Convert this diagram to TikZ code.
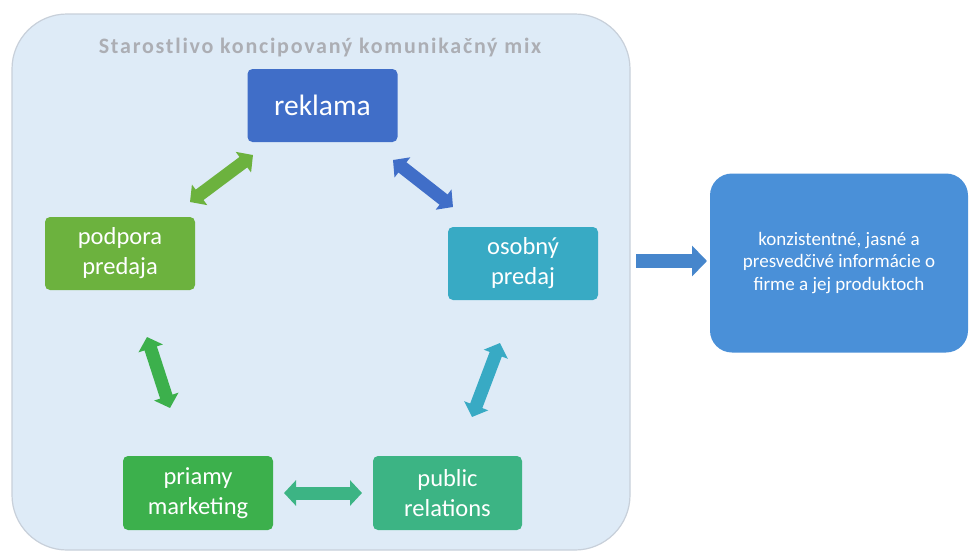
\documentclass[tikz,border=0pt]{standalone}
\usepackage{fontspec}
\setmainfont{Carlito}
\usetikzlibrary{arrows.meta}
\definecolor{outerfill}{RGB}{222,235,247}
\definecolor{outerdraw}{RGB}{200,208,218}
\definecolor{titlegray}{RGB}{172,174,180}
\definecolor{cReklama}{RGB}{64,110,200}
\definecolor{cPodpora}{RGB}{108,178,62}
\definecolor{cOsobny}{RGB}{56,170,196}
\definecolor{cPriamy}{RGB}{60,176,76}
\definecolor{cPublic}{RGB}{60,180,132}
\definecolor{cRight}{RGB}{74,144,216}
\definecolor{cRightArrow}{RGB}{70,134,204}
\tikzset{
  mixbox/.style={rounded corners=5pt, minimum width=150pt, minimum height=73pt,
    inner sep=0pt, text=white, align=center, font=\fontsize{24.5}{30}\selectfont},
  dblarrow/.style={line width=13pt, {Triangle[length=12pt,width=25pt]}-{Triangle[length=12pt,width=25pt]}},
}
\begin{document}
\begin{tikzpicture}[x=1pt,y=-1pt]
\useasboundingbox (0,0) rectangle (969,554);
\fill[white] (0,0) rectangle (969,554);
\node[draw=outerdraw, line width=1.2pt, fill=outerfill, rounded corners=55pt,
  minimum width=618pt, minimum height=536pt, inner sep=0pt] (outer) at (321,282) {};
\node[text=titlegray, font=\fontsize{22}{24}\selectfont\bfseries\addfontfeatures{LetterSpace=8}] (title) at (320,48) {Starostlivo koncipovaný komunikačný mix};
\node[mixbox, fill=cReklama, font=\fontsize{29.5}{34}\selectfont] (rek) at (322.5,105.5) {reklama};
\node[mixbox, fill=cPodpora] (pod) at (120,253.5) {podpora\\predaja};
\node[mixbox, fill=cOsobny] (oso) at (523,263.5) {osobný\\predaj};
\node[mixbox, fill=cPriamy, minimum height=74pt] (pri) at (198,493) {priamy\\marketing};
\node[mixbox, fill=cPublic, minimum height=74pt, minimum width=149pt] (pub) at (447.5,493) {public\\relations};
\node[rounded corners=22pt, fill=cRight, minimum width=258pt, minimum height=179pt,
  inner sep=0pt, text=white, align=center, font=\fontsize{19}{22.5}\selectfont] (res) at (839,263)
  {konzistentné, jasné a\\presvedčivé informácie o\\firme a jej produktoch};
% arrow end coordinates
\coordinate (a1s) at (190,202); \coordinate (a1e) at (253,155);
\coordinate (a2s) at (393,160); \coordinate (a2e) at (453,207);
\coordinate (a3s) at (147,337); \coordinate (a3e) at (170,408);
\coordinate (a4s) at (500,343); \coordinate (a4e) at (472,417);
\coordinate (a5s) at (284,493); \coordinate (a5e) at (362,493);
\coordinate (a6s) at (636,261); \coordinate (a6e) at (707,261);
\draw[dblarrow, draw=cPodpora, fill=cPodpora] (a1s) -- (a1e);
\draw[dblarrow, draw=cReklama, fill=cReklama] (a2s) -- (a2e);
\draw[dblarrow, draw=cPriamy, fill=cPriamy] (a3s) -- (a3e);
\draw[dblarrow, draw=cOsobny, fill=cOsobny] (a4s) -- (a4e);
\draw[dblarrow, draw=cPublic, fill=cPublic] (a5s) -- (a5e);
\draw[line width=14pt, draw=cRightArrow, -{Triangle[length=15pt,width=30pt,fill=cRightArrow]}] (a6s) -- (a6e);
\end{tikzpicture}
\end{document}
